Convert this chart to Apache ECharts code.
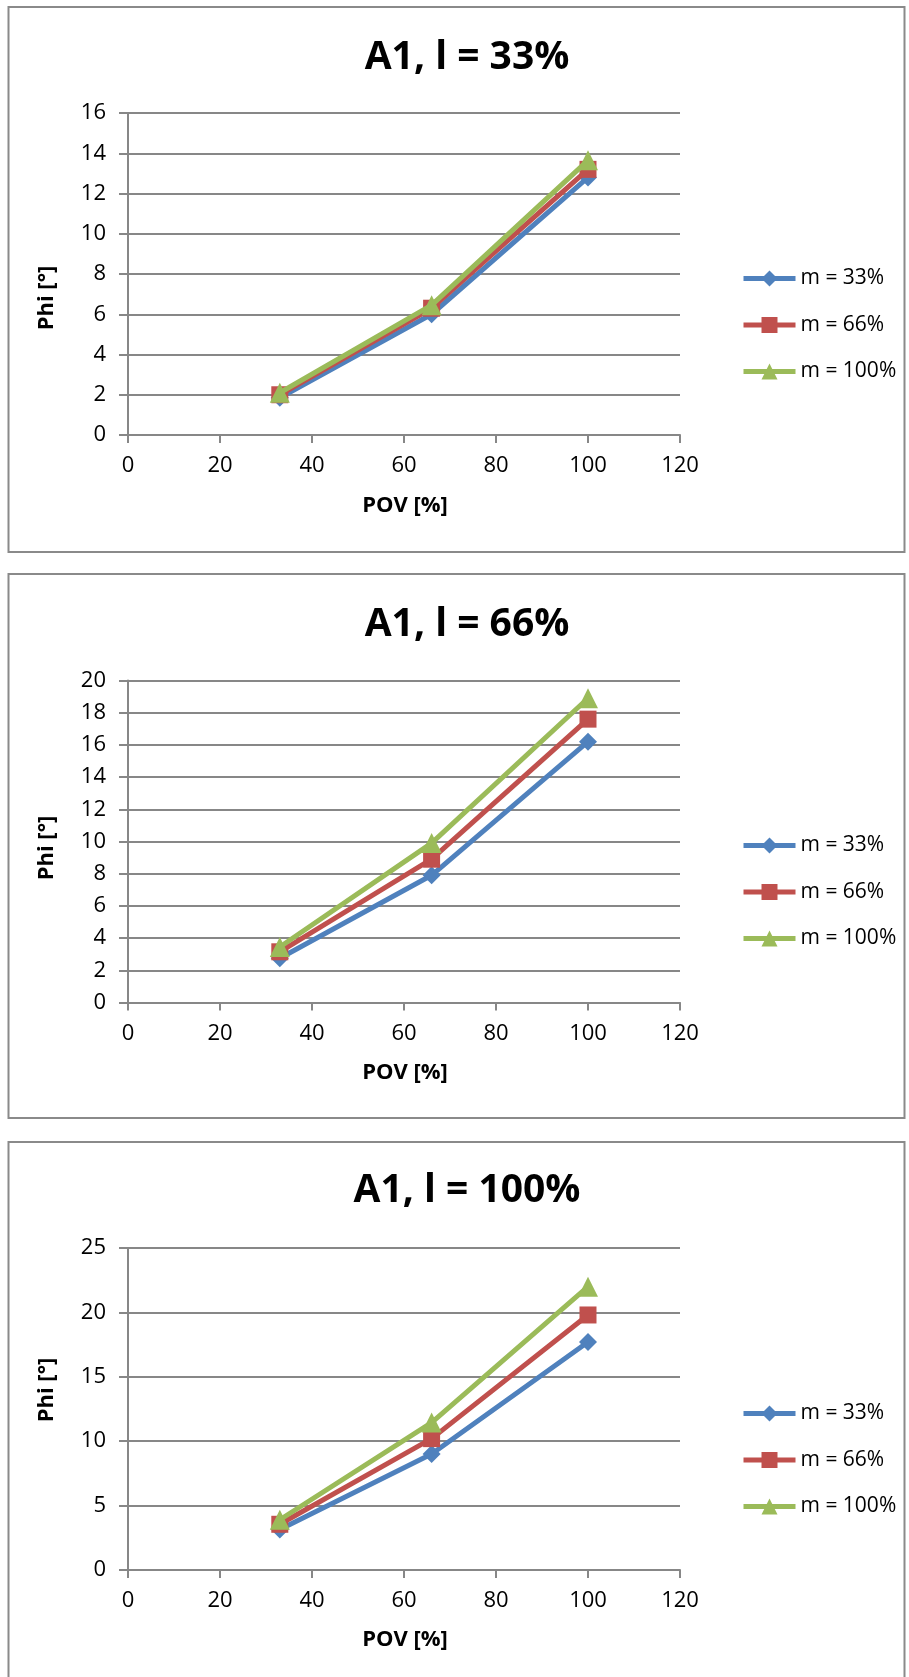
<!DOCTYPE html>
<html>
<head>
<meta charset="utf-8">
<script src="https://cdn.jsdelivr.net/npm/echarts@6/dist/echarts.min.js"></script>
<style>
html,body{margin:0;padding:0;background:#fff;}
#c{width:909px;height:1677px;}
</style>
</head>
<body>
<div id="c"></div>
<script>
// ---- data ----
const pov = [33, 66, 100];
const seriesNames = ['m = 33%', 'm = 66%', 'm = 100%'];
const chartTitles = ['A1, l = 33%', 'A1, l = 66%', 'A1, l = 100%'];
const xTitle = 'POV [%]';
const yTitle = 'Phi [°]';
// l = 33%
const l33_m33 = [1.85, 6.0, 12.8];
const l33_m66 = [2.0, 6.3, 13.2];
const l33_m100 = [2.1, 6.45, 13.65];
// l = 66%
const l66_m33 = [2.75, 7.9, 16.2];
const l66_m66 = [3.15, 8.9, 17.6];
const l66_m100 = [3.45, 9.9, 18.9];
// l = 100%
const l100_m33 = [3.15, 9.0, 17.7];
const l100_m66 = [3.55, 10.2, 19.8];
const l100_m100 = [3.9, 11.45, 22.0];
const yMaxes = [16, 20, 25];
const yIntervals = [2, 2, 5];
const xMin = 0, xMax = 120, xInterval = 20;

const panelData = [
  [l33_m33, l33_m66, l33_m100],
  [l66_m33, l66_m66, l66_m100],
  [l100_m33, l100_m66, l100_m100]
];

// ---- styling / layout ----
const colors = ['#4F81BD', '#C0504D', '#9BBB59'];
const symbols = ['diamond', 'rect', 'triangle'];
const symbolSizes = [18, 17, 20];
const gridCol = '#878787';
const FONT = '"Open Sans", "Liberation Sans", sans-serif';

const layout = [
  {bTop: 7, bBot: 552, titleY: 58, gTop: 113, gBot: 435, legTop: 263, phiY: 298, povY: 506},
  {bTop: 574, bBot: 1118, titleY: 625, gTop: 680.5, gBot: 1002.5, legTop: 830, phiY: 848, povY: 1073},
  {bTop: 1142, bBot: 1700, titleY: 1191, gTop: 1248, gBot: 1570, legTop: 1398, phiY: 1390, povY: 1640}
];
const gLeft = 128, gRight = 680;

const grid = [], xAxis = [], yAxis = [], series = [], legend = [], graphic = [];

layout.forEach((L, p) => {
  grid.push({left: gLeft, top: L.gTop, width: gRight - gLeft, height: L.gBot - L.gTop, containLabel: false});
  xAxis.push({
    type: 'value', gridIndex: p, min: xMin, max: xMax, interval: xInterval,
    axisLine: {show: true, onZero: false, lineStyle: {color: gridCol, width: 2}},
    axisTick: {show: true, inside: false, length: 8, lineStyle: {color: gridCol, width: 2}},
    axisLabel: {color: '#000', fontFamily: FONT, fontSize: 22, margin: 20},
    splitLine: {show: false}
  });
  yAxis.push({
    type: 'value', gridIndex: p, min: 0, max: yMaxes[p], interval: yIntervals[p],
    axisLine: {show: true, lineStyle: {color: gridCol, width: 2}},
    axisTick: {show: true, inside: false, length: 9, lineStyle: {color: gridCol, width: 2}},
    axisLabel: {color: '#000', fontFamily: FONT, fontSize: 22, margin: 22},
    splitLine: {show: true, lineStyle: {color: gridCol, width: 2}}
  });
  panelData[p].forEach((vals, s) => {
    series.push({
      type: 'line', name: seriesNames[s], xAxisIndex: p, yAxisIndex: p,
      data: pov.map((x, i) => [x, vals[i]]),
      symbol: symbols[s], symbolSize: symbolSizes[s],
      itemStyle: {color: colors[s]},
      lineStyle: {color: colors[s], width: 5},
      z: 2 + s, animation: false
    });
  });
  legend.push({
    orient: 'vertical', left: 736, top: L.legTop, itemWidth: 52, itemHeight: 20, itemGap: 25.5,
    data: seriesNames,
    lineStyle: {width: 5},
    textStyle: {color: '#000', fontFamily: FONT, fontSize: 21, lineHeight: 20},
    selectedMode: false
  });
  graphic.push({
    type: 'rect', shape: {x: 8.5, y: L.bTop, width: 896, height: L.bBot - L.bTop},
    style: {fill: 'none', stroke: '#8a8a8a', lineWidth: 2}, z: -10, silent: true
  });
  graphic.push({
    type: 'text', x: 467, y: L.titleY,
    style: {text: chartTitles[p], fill: '#000', font: 'bold 39px ' + FONT, align: 'center', verticalAlign: 'middle'}
  });
  graphic.push({
    type: 'text', x: 405, y: L.povY,
    style: {text: xTitle, fill: '#000', font: 'bold 22px ' + FONT, align: 'center', verticalAlign: 'middle'}
  });
  graphic.push({
    type: 'text', x: 47, y: L.phiY, rotation: Math.PI / 2,
    style: {text: yTitle, fill: '#000', font: 'bold 22px ' + FONT, align: 'center', verticalAlign: 'middle'}
  });
});

const chart = echarts.init(document.getElementById('c'), null, {renderer: 'canvas'});
chart.setOption({
  animation: false,
  backgroundColor: '#fff',
  grid, xAxis, yAxis, series, legend, graphic
});
</script>
</body>
</html>
